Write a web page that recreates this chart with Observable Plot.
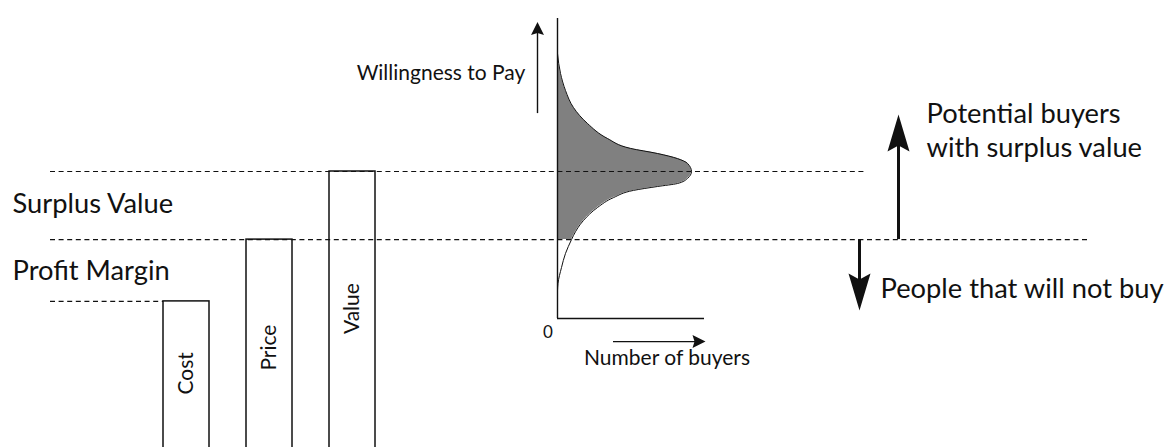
<!DOCTYPE html>
<html><head><meta charset="utf-8">
<script src="https://cdn.jsdelivr.net/npm/d3@7"></script>
<script src="https://cdn.jsdelivr.net/npm/@observablehq/plot@0.6"></script>
<style>
html,body{margin:0;padding:0;background:#fff;}
</style></head><body><div id="chart"></div>
<script>
// ---------- data ----------
const barNames = ["Cost", "Price", "Value"];
const barValues = [5.7, 26.3, 49];            // willingness-to-pay units
const levelNames = ["Profit Margin", "Surplus Value"];
const wtpAxisMax = 100;
const buyersAxisMax = 147;
// willingness-to-pay distribution (wtp level, number of buyers)
const curveWTP    = [88.3, 81.7, 76, 70.3, 65, 60, 56.7, 55, 53.3, 51.7, 49, 46.7, 45, 44, 42.7, 40.3, 37, 32.7, 27.7, 26.3, 21.7, 17, 11.7, 9.3];
const curveBuyers = [0, 3, 8, 16, 30, 50, 73, 100, 120, 130, 134, 130, 120, 100, 76, 56, 40, 26, 16, 14, 8, 4, 0.5, 0];
const axisTexts = ["Willingness to Pay", "Number of buyers", "0"];
const rightTexts = ["Potential buyers", "with surplus value", "People that will not buy"];

// ---------- layout ----------
const cost = barValues[0], price = barValues[1], value = barValues[2];
const ox = 557;                         // distribution origin (layout x)
const barX = i => 163 + 83 * i;
const barW = 46;
const barLabelY = [-18.3, -9.7, 3.3];
const bars = barNames.map((n, i) => ({name: n, v: barValues[i], x1: barX(i), x2: barX(i) + barW, ly: barLabelY[i]}));
const curve = curveWTP.map((w, i) => ({w, b: curveBuyers[i]}));
const shaded = curve.filter(d => d.w >= price - 1e-9);

function head(w, l, notch) {
  return {draw(ctx) { ctx.moveTo(0, 0); ctx.lineTo(w / 2, l); ctx.lineTo(0, l - notch); ctx.lineTo(-w / 2, l); ctx.closePath(); }};
}
const bigHead = head(22, 37, 6);
const smallHead = head(13, 13, 2);

const ink = "#111";
const big = 27.3, mid = 21, barFont = 21;
const dash = {stroke: ink, strokeWidth: 1.1, strokeDasharray: "5,3.6"};

const chart = Plot.plot({
  width: 1164, height: 447,
  margin: 0,
  x: {domain: [0, 1164], range: [0, 1164], axis: null},
  y: {domain: [-43, 106], range: [447, 0], axis: null},
  style: {fontFamily: "Lato, 'Open Sans', sans-serif", color: ink, background: "#fff"},
  marks: [
    // bars
    Plot.rect(bars, {x1: "x1", x2: "x2", y1: -60, y2: "v", fill: "#fff", stroke: ink, strokeWidth: 1.5, clip: true}),
    Plot.text(bars, {x: d => (d.x1 + d.x2) / 2, y: "ly", text: "name", rotate: -90, fontSize: barFont, fill: ink}),
    // shaded distribution
    Plot.areaX(shaded, {y: "w", x1: ox, x2: d => ox + d.b, fill: "#808080", curve: "monotone-y"}),
    Plot.line(curve, {x: d => ox + d.b, y: "w", stroke: ink, strokeWidth: 1, curve: "monotone-y"}),
    // dashed level lines
    Plot.ruleY([cost], {x1: 50, x2: barX(0), ...dash}),
    Plot.ruleY([price], {x1: 50, x2: 1090, ...dash}),
    Plot.ruleY([value], {x1: 50, x2: 867, ...dash}),
    // distribution axes
    Plot.ruleX([ox], {y1: 0, y2: wtpAxisMax, stroke: ink, strokeWidth: 1.4}),
    Plot.ruleY([0], {x1: ox, x2: ox + buyersAxisMax, stroke: ink, strokeWidth: 1.4}),
    // small arrows
    Plot.ruleX([537], {y1: 68.3, y2: 96, stroke: ink, strokeWidth: 1.4}),
    Plot.dot([0], {x: 537, y: 98.8, symbol: smallHead, fill: ink, stroke: "none", r: 5}),
    Plot.ruleY([-7.7], {x1: 613, x2: 702, stroke: ink, strokeWidth: 1.4}),
    Plot.dot([0], {x: 705, y: -7.7, symbol: smallHead, rotate: 90, fill: ink, stroke: "none", r: 5}),
    // big arrows
    Plot.ruleX([898], {y1: price, y2: 62, stroke: ink, strokeWidth: 3}),
    Plot.dot([0], {x: 898, y: 68, symbol: bigHead, fill: ink, stroke: "none", r: 5}),
    Plot.ruleX([859], {y1: price, y2: 8, stroke: ink, strokeWidth: 3}),
    Plot.dot([0], {x: 859, y: 2.7, symbol: bigHead, rotate: 180, fill: ink, stroke: "none", r: 5}),
    // texts
    Plot.text([levelNames[1]], {x: 12, y: 38, text: d => d, textAnchor: "start", fontSize: big, fill: ink}),
    Plot.text([levelNames[0]], {x: 12, y: 15.7, text: d => d, textAnchor: "start", fontSize: big, fill: ink}),
    Plot.text([axisTexts[0]], {x: 440.5, y: 81.8, text: d => d, fontSize: mid, fill: ink}),
    Plot.text([axisTexts[1]], {x: 666.5, y: -13.3, text: d => d, fontSize: mid, fill: ink}),
    Plot.text([axisTexts[2]], {x: 547.5, y: -4.7, text: d => d, fontSize: 17, fill: ink}),
    Plot.text([rightTexts[0]], {x: 926, y: 68, text: d => d, textAnchor: "start", fontSize: big, fill: ink}),
    Plot.text([rightTexts[1]], {x: 926, y: 56.7, text: d => d, textAnchor: "start", fontSize: big, fill: ink}),
    Plot.text([rightTexts[2]], {x: 880, y: 9.7, text: d => d, textAnchor: "start", fontSize: big, fill: ink})
  ]
});
document.getElementById("chart").appendChild(chart);
</script>
</body></html>
